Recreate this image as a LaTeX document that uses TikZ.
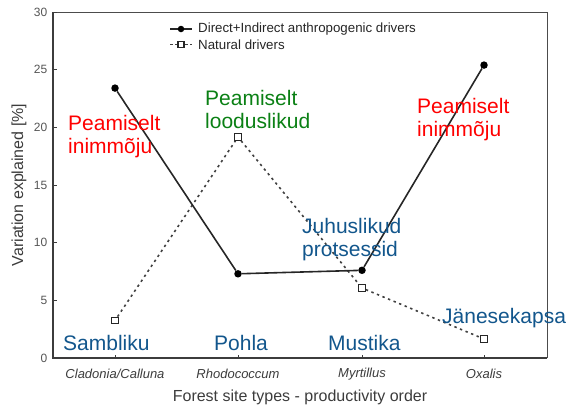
\documentclass[tikz,border=0pt]{standalone}
\usepackage{fontspec}
\setmainfont{Liberation Sans}
\definecolor{lblblue}{RGB}{18,86,140}
\definecolor{lblgreen}{RGB}{10,128,20}
\definecolor{lblred}{RGB}{255,0,0}
\definecolor{axisgray}{RGB}{60,60,60}
\definecolor{ticktext}{RGB}{85,85,85}
\begin{document}
\begin{tikzpicture}[x=1pt,y=-1pt,
  big/.style={font=\fontsize{21}{23.5}\selectfont, inner sep=0pt, anchor=base west},
  ticklbl/.style={font=\fontsize{12}{13}\selectfont, text=ticktext, inner sep=0pt},
  catlbl/.style={font=\fontsize{13}{14}\selectfont\itshape, text=axisgray, inner sep=0pt},
  axislbl/.style={font=\fontsize{16}{17}\selectfont, text=axisgray, inner sep=0pt},
  leglbl/.style={font=\fontsize{13.3}{14}\selectfont, text=black!85, inner sep=0pt, anchor=west},
  dotmark/.style={circle, fill=black, inner sep=0pt, minimum size=7.5pt},
  sqmark/.style={rectangle, draw=black!85, line width=1.2pt, fill=white, inner sep=0pt, minimum size=6.5pt},
  anthro/.style={line width=1.6pt, black!85},
  natural/.style={line width=1.6pt, black!75, dash pattern=on 2.4pt off 3.6pt}
]
\useasboundingbox (0,0) rectangle (568,407);
% axes box
\draw[line width=0.9pt, black!70] (53,12) -- (547,12) -- (547,358);
\draw[line width=1.5pt, axisgray] (53,12) -- (53,358) -- (547,358);
% y ticks
\foreach \v/\yy in {0/358,5/300.3,10/242.7,15/185,20/127.3,25/69.7,30/12}{
  \draw[line width=0.8pt, axisgray] (53,\yy) -- (57,\yy);
  \node[ticklbl, anchor=east] (yt\v) at (47.5,\yy) {\v};
}
% x ticks
\foreach \xx in {115,238,362,484}{
  \draw[line width=0.8pt, axisgray] (\xx,358) -- (\xx,354.5);
}
\node[catlbl] (c1) at (115,374) {Cladonia/Calluna};
\node[catlbl] (c2) at (238,374) {Rhodococcum};
\node[catlbl] (c3) at (362,374) {Myrtillus};
\node[catlbl] (c4) at (484,374) {Oxalis};
% axis titles
\node[axislbl] (xtitle) at (300,397) {Forest site types - productivity order};
\node[axislbl, rotate=90] (ytitle) at (19,185) {Variation explained [\%]};
% data points
\node[dotmark] (a1) at (115,88.1) {};
\node[dotmark] (a2) at (238,273.8) {};
\node[dotmark] (a3) at (362,270.3) {};
\node[dotmark] (a4) at (484,65.1) {};
\node[sqmark] (n1) at (115,320.5) {};
\node[sqmark] (n2) at (238,137) {};
\node[sqmark] (n3) at (362,288) {};
\node[sqmark] (n4) at (484,339) {};
\draw[natural] (n1) -- (n2) -- (n3) -- (n4);
\draw[anthro] (a1) -- (a2) -- (a3) -- (a4);
% legend
\coordinate (l1a) at (170,29);
\coordinate (l1b) at (192,29);
\coordinate (l2a) at (170,44.5);
\coordinate (l2b) at (192,44.5);
\draw[anthro] (l1a) -- (l1b);
\node[dotmark, minimum size=6.5pt] (ld) at (181,29) {};
\draw[natural, dash pattern=on 2.5pt off 2.5pt] (l2a) -- (l2b);
\node[sqmark, minimum size=6pt] (ls) at (181,44.5) {};
\node[leglbl] (lt1) at (198,29) {Direct+Indirect anthropogenic drivers};
\node[leglbl] (lt2) at (198,44.5) {Natural drivers};
% annotations
\node[big, text=lblred] (r1a) at (68,130) {Peamiselt};
\node[big, text=lblred] (r1b) at (68,153.5) {inimmõju};
\node[big, text=lblgreen] (g1a) at (205,105) {Peamiselt};
\node[big, text=lblgreen] (g1b) at (205,128.5) {looduslikud};
\node[big, text=lblblue] (b1a) at (302,233) {Juhuslikud};
\node[big, text=lblblue] (b1b) at (302,256.5) {protsessid};
\node[big, text=lblred] (r2a) at (417,113) {Peamiselt};
\node[big, text=lblred] (r2b) at (417,136.5) {inimmõju};
\node[big, text=lblblue] (s1) at (63,350) {Sambliku};
\node[big, text=lblblue] (s2) at (214,350) {Pohla};
\node[big, text=lblblue] (s3) at (328,350) {Mustika};
\node[big, text=lblblue] (s4) at (442,323) {Jänesekapsa};
\end{tikzpicture}
\end{document}
